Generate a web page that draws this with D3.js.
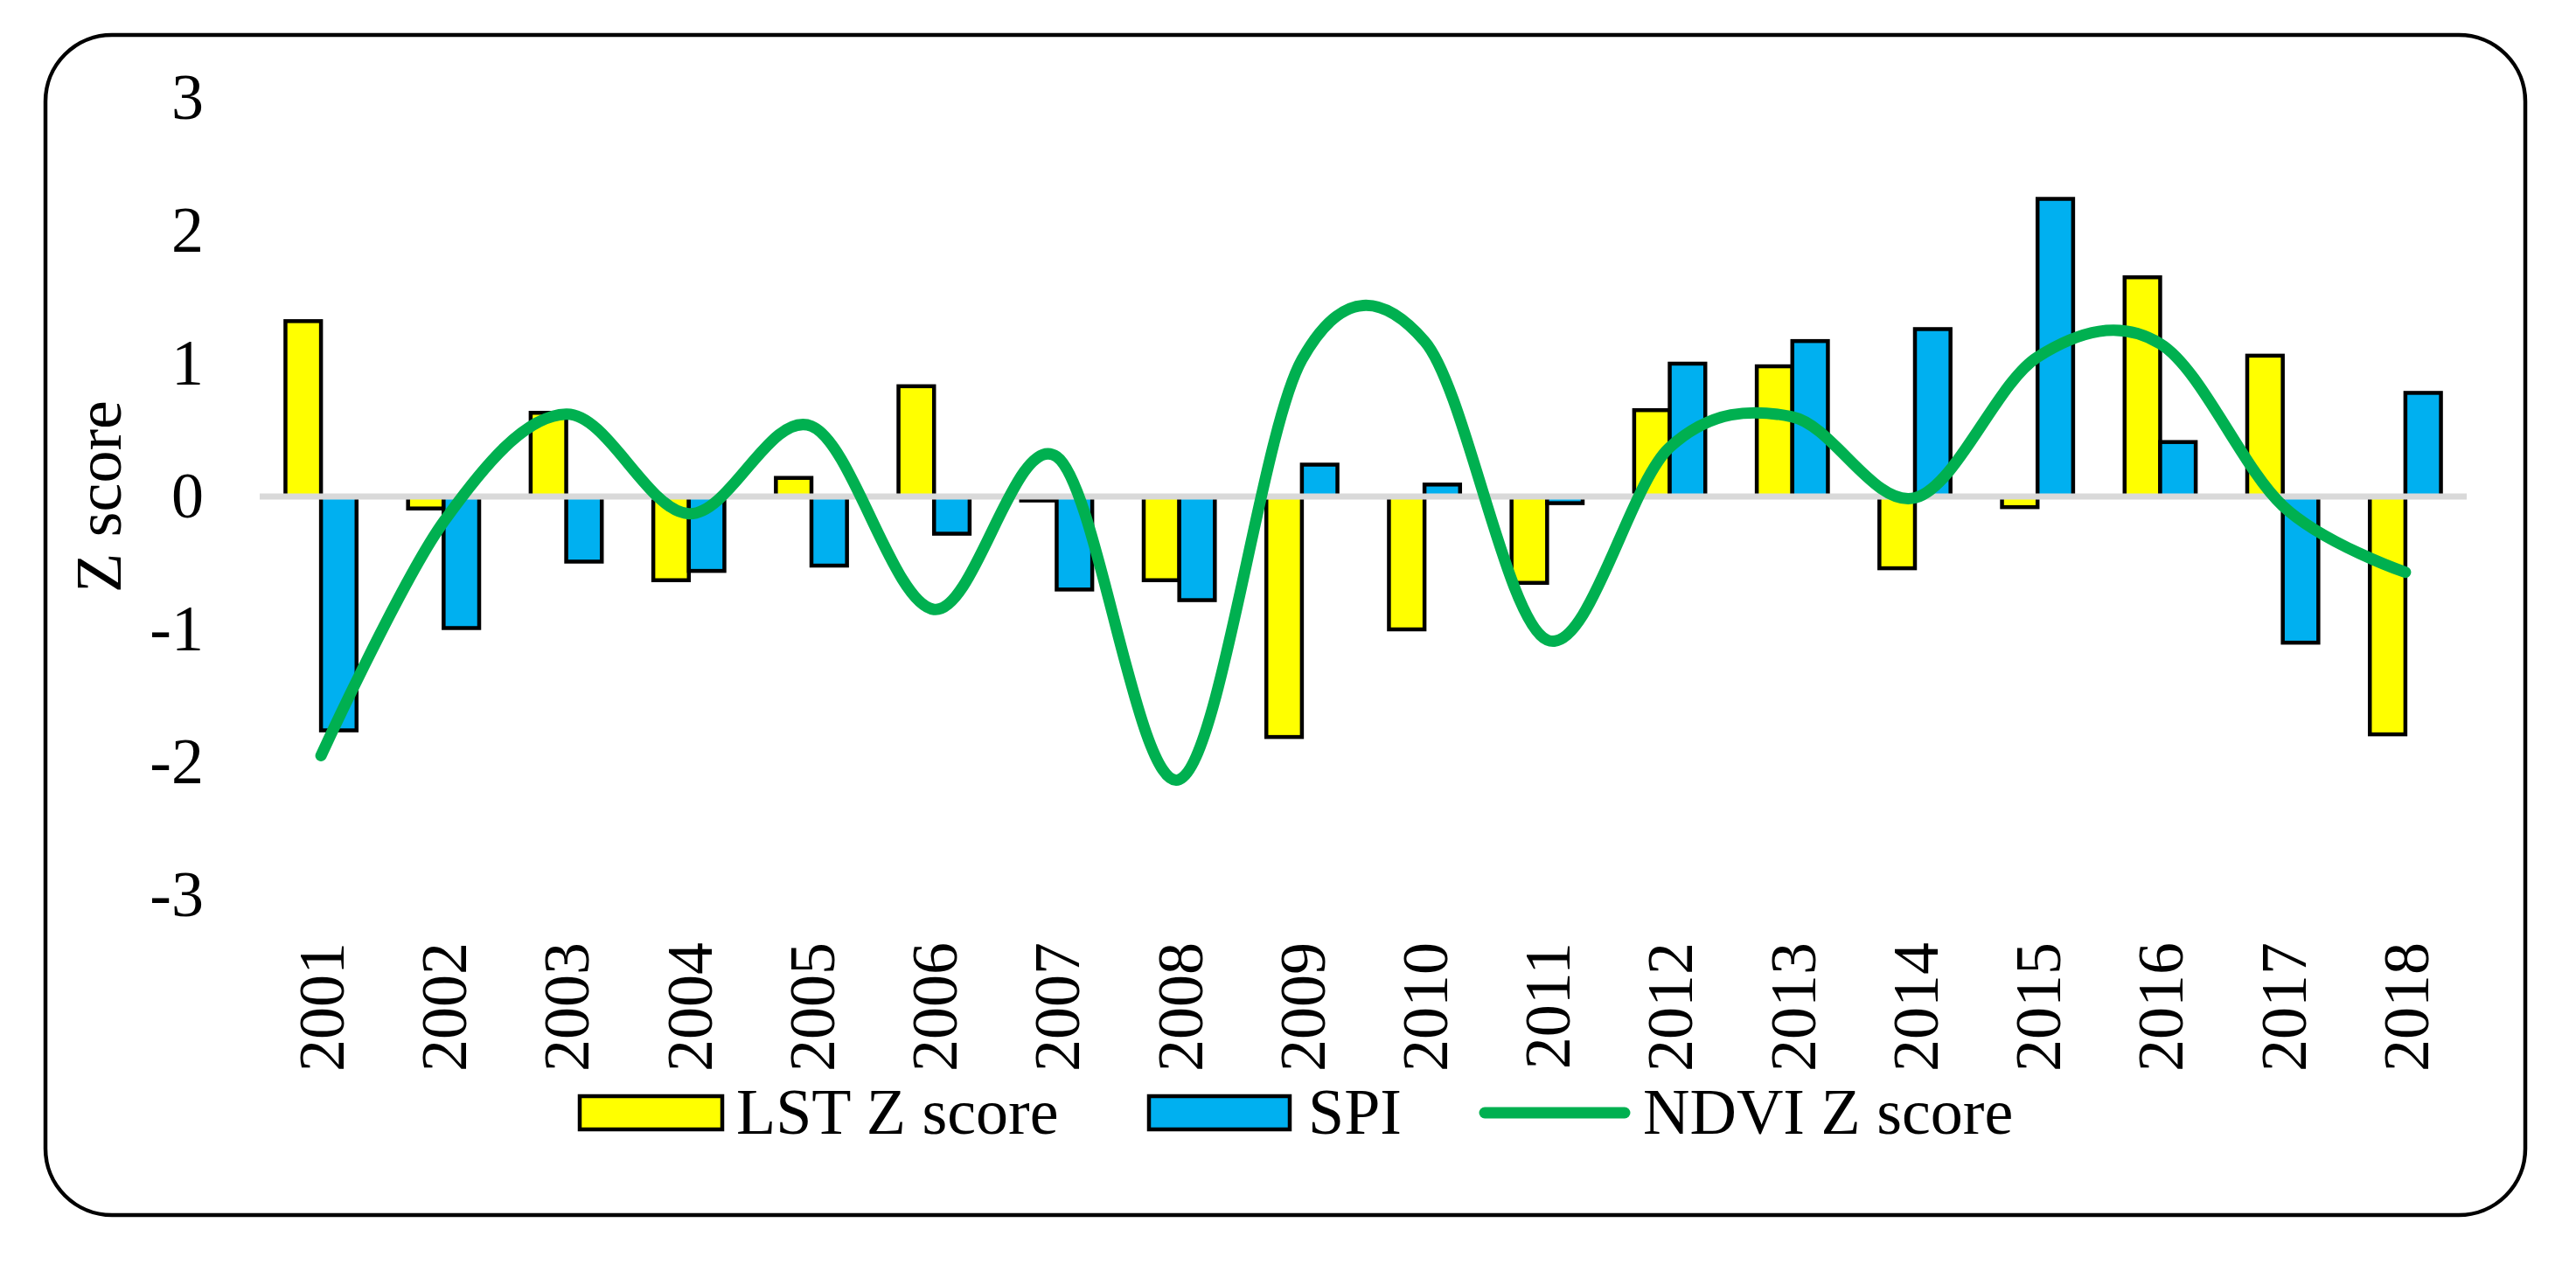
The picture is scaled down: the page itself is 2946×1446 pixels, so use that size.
<!DOCTYPE html>
<html>
<head>
<meta charset="utf-8">
<script src="https://cdn.jsdelivr.net/npm/d3@7"></script>
<style>
  html, body { margin: 0; padding: 0; background: #ffffff; }
  svg { display: block; }
  text { font-family: "Liberation Serif", "Times New Roman", serif; fill: #000; }
</style>
</head>
<body>
<svg id="chart" width="2946" height="1446"></svg>
<script>
// ---- data ----
const years = ["2001","2002","2003","2004","2005","2006","2007","2008","2009",
               "2010","2011","2012","2013","2014","2015","2016","2017","2018"];
const lstZ  = [1.32,-0.09,0.63,-0.63,0.14,0.83,-0.03,-0.63,-1.81,
               -1.00,-0.65,0.65,0.98,-0.54,-0.08,1.65,1.06,-1.79];
const spi   = [-1.76,-0.99,-0.49,-0.56,-0.52,-0.28,-0.70,-0.78,0.24,
               0.09,-0.05,1.00,1.17,1.26,2.24,0.41,-1.10,0.78];
const ndviZ = [-1.95,-0.19,0.62,-0.13,0.53,-0.85,0.30,-2.13,1.03,
               1.17,-1.08,0.37,0.60,-0.01,1.05,1.15,-0.07,-0.57];
const yTicks = [-3,-2,-1,0,1,2,3];
const seriesNames = ["LST Z score","SPI","NDVI Z score"];
const colors = { lst: "#FFFF00", spi: "#00B0F0", ndvi: "#00B050", zero: "#D9D9D9" };

// ---- layout ----
const plot = { left: 297, right: 2821, top: 112, bottom: 1024 };
const fontSize = 74;

const svg = d3.select("#chart");

// frame
svg.append("rect")
  .attr("x", 52).attr("y", 40)
  .attr("width", 2836).attr("height", 1350)
  .attr("rx", 76).attr("ry", 76)
  .attr("fill", "#fff").attr("stroke", "#000").attr("stroke-width", 4.5);

const x = d3.scaleBand().domain(years).range([plot.left, plot.right]).padding(0);
const y = d3.scaleLinear().domain([-3, 3]).range([plot.bottom, plot.top]);
const barW = x.step() * 0.29;
const cx = d => x(d) + x.bandwidth() / 2;

// y axis labels
const yAxis = d3.axisLeft(y).tickValues(yTicks).tickSize(0).tickPadding(64)
  .tickFormat(d => String(d));
const gy = svg.append("g").attr("transform", `translate(${plot.left},0)`).call(yAxis);
gy.select(".domain").remove();
gy.selectAll("text")
  .style("font-family", '"Liberation Serif", "Times New Roman", serif')
  .style("font-size", fontSize + "px").attr("fill", "#000");

// y title
svg.append("text")
  .attr("transform", `translate(112,${(plot.top + plot.bottom) / 2}) rotate(-90)`)
  .attr("text-anchor", "middle").attr("dy", "0.35em")
  .style("font-size", fontSize + "px")
  .text("Z score");

// bars
const barData = years.map((yr, i) => ({ yr, lst: lstZ[i], spi: spi[i] }));
svg.append("g").selectAll("rect.lst").data(barData).join("rect")
  .attr("class", "lst")
  .attr("x", d => cx(d.yr) - barW)
  .attr("width", barW)
  .attr("y", d => y(Math.max(0, d.lst)))
  .attr("height", d => Math.abs(y(d.lst) - y(0)))
  .attr("fill", colors.lst).attr("stroke", "#000").attr("stroke-width", 4.5);
svg.append("g").selectAll("rect.spi").data(barData).join("rect")
  .attr("class", "spi")
  .attr("x", d => cx(d.yr))
  .attr("width", barW)
  .attr("y", d => y(Math.max(0, d.spi)))
  .attr("height", d => Math.abs(y(d.spi) - y(0)))
  .attr("fill", colors.spi).attr("stroke", "#000").attr("stroke-width", 4.5);

// zero line
svg.append("line")
  .attr("x1", plot.left).attr("x2", plot.right)
  .attr("y1", y(0)).attr("y2", y(0))
  .attr("stroke", colors.zero).attr("stroke-width", 7);

// NDVI smoothed line
const line = d3.line()
  .x((d, i) => cx(years[i]))
  .y(d => y(d))
  .curve(d3.curveCatmullRom.alpha(0));
svg.append("path")
  .attr("d", line(ndviZ))
  .attr("fill", "none").attr("stroke", colors.ndvi)
  .attr("stroke-width", 13).attr("stroke-linecap", "round").attr("stroke-linejoin", "round");

// x axis labels
const xAxis = d3.axisBottom(x).tickSize(0).tickPadding(0);
const gx = svg.append("g").attr("transform", `translate(0,1078)`).call(xAxis);
gx.select(".domain").remove();
gx.selectAll("text")
  .style("font-family", '"Liberation Serif", "Times New Roman", serif')
  .style("font-size", fontSize + "px").attr("fill", "#000")
  .attr("x", 0).attr("y", 0).attr("dy", "0.35em")
  .attr("text-anchor", "end")
  .attr("transform", "rotate(-90)");

// legend
const leg = svg.append("g");
const legY = 1273;
leg.append("rect").attr("x", 663).attr("y", legY - 19).attr("width", 163).attr("height", 38)
  .attr("fill", colors.lst).attr("stroke", "#000").attr("stroke-width", 4.5);
leg.append("text").attr("x", 842).attr("y", 1297).style("font-size", fontSize + "px").text(seriesNames[0]);
leg.append("rect").attr("x", 1314).attr("y", legY - 19).attr("width", 161).attr("height", 38)
  .attr("fill", colors.spi).attr("stroke", "#000").attr("stroke-width", 4.5);
leg.append("text").attr("x", 1496).attr("y", 1297).style("font-size", fontSize + "px").text(seriesNames[1]);
leg.append("line").attr("x1", 1698).attr("x2", 1858).attr("y1", legY).attr("y2", legY)
  .attr("stroke", colors.ndvi).attr("stroke-width", 13).attr("stroke-linecap", "round");
leg.append("text").attr("x", 1879).attr("y", 1297).style("font-size", fontSize + "px").text(seriesNames[2]);
</script>
</body>
</html>
